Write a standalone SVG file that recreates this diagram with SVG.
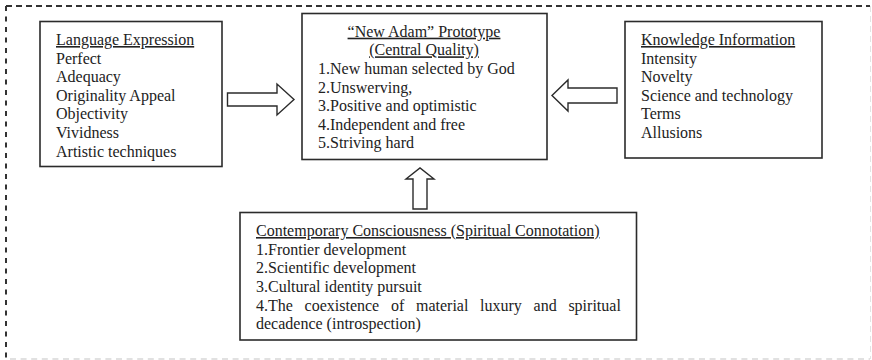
<svg xmlns="http://www.w3.org/2000/svg" width="872" height="360" viewBox="0 0 872 360">
<style>
.box{fill:#fff;stroke:#2b2b2b;stroke-width:1.6}
.arr{fill:#fff;stroke:#2b2b2b;stroke-width:1.4;stroke-linejoin:miter}
text{font-family:"Liberation Serif","Times New Roman",serif;font-size:16px;fill:#222}
.h{text-decoration:underline}
</style>
<rect width="872" height="360" fill="#fff"/>
<g id="frame">
<line x1="6" y1="6" x2="870" y2="6" stroke="#333" stroke-width="2" stroke-dasharray="6 4"/>
<line x1="6" y1="6" x2="6" y2="359" stroke="#333" stroke-width="2" stroke-dasharray="5 5.5"/>
<line x1="870.5" y1="6" x2="870.5" y2="359" stroke="#e4e4e4" stroke-width="1" stroke-dasharray="6 4"/>
<line x1="10" y1="359" x2="870" y2="359" stroke="#d8d8d8" stroke-width="1.5" stroke-dasharray="6 4.6"/>
</g>
<g id="language">
<rect class="box" x="40" y="21.5" width="182" height="145"/>
<text x="56" y="45" class="h">Language Expression</text>
<text x="56" y="63.5">Perfect</text>
<text x="56" y="82">Adequacy</text>
<text x="56" y="100.7">Originality Appeal</text>
<text x="56" y="119.3">Objectivity</text>
<text x="56" y="137.9">Vividness</text>
<text x="56" y="156.5">Artistic techniques</text>
</g>
<g id="adam">
<rect class="box" x="302" y="13.5" width="245" height="146"/>
<text x="424" y="36.7" text-anchor="middle" class="h">“New Adam” Prototype</text>
<text x="424" y="55.3" text-anchor="middle" class="h">(Central Quality)</text>
<text x="318" y="74">1.New human selected by God</text>
<text x="318" y="92.6">2.Unswerving,</text>
<text x="318" y="111.2">3.Positive and optimistic</text>
<text x="318" y="129.8">4.Independent and free</text>
<text x="318" y="148.4">5.Striving hard</text>
</g>
<g id="knowledge">
<rect class="box" x="625" y="21.5" width="197" height="136.5"/>
<text x="641" y="45" class="h">Knowledge Information</text>
<text x="641" y="63.5">Intensity</text>
<text x="641" y="82">Novelty</text>
<text x="641" y="100.7">Science and technology</text>
<text x="641" y="119.3">Terms</text>
<text x="641" y="137.9">Allusions</text>
</g>
<g id="consciousness">
<rect class="box" x="240" y="212.5" width="396.5" height="127.5"/>
<text x="256" y="236" class="h">Contemporary Consciousness (Spiritual Connotation)</text>
<text x="256" y="254.6">1.Frontier development</text>
<text x="256" y="273.2">2.Scientific development</text>
<text x="256" y="291.8">3.Cultural identity pursuit</text>
<text y="310.5"><tspan x="256">4.The</tspan><tspan x="304.6">coexistence</tspan><tspan x="390.9">of</tspan><tspan x="416">material</tspan><tspan x="480.1">luxury</tspan><tspan x="533.6">and</tspan><tspan x="568.4">spiritual</tspan></text>
<text x="256" y="329">decadence (introspection)</text>
</g>
<g id="connectors">
<polygon class="arr" points="227.5,93 277,93 277,84 294,99.5 277,115 277,106 227.5,106"/>
<polygon class="arr" points="617,88 568,88 568,80 552,95.5 568,111 568,103 617,103"/>
<polygon class="arr" points="413,209 413,179 406,179 420,168 434,179 427,179 427,209"/>
</g>
</svg>
